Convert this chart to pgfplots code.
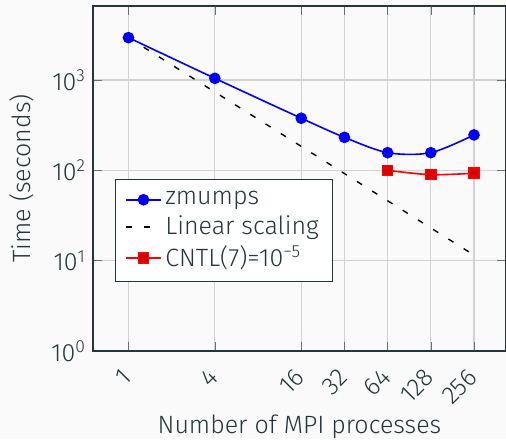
\documentclass[border=0pt]{standalone}
\usepackage{fontspec}
\setmainfont{Fira Sans}[UprightFont=* Light]
\usepackage{xcolor}
\usepackage{pgfplots}
\pgfplotsset{compat=1.18}
\definecolor{bgc}{HTML}{FAFAFA}
\definecolor{txt}{HTML}{23373B}
\pagecolor{bgc}
\newcommand{\fs}{\fontsize{12.5}{15}\selectfont}
\begin{document}
\begin{tikzpicture}
\begin{axis}[
  name=ax,
  scale only axis,
  width=206.5pt, height=172.5pt,
  xmode=log, ymode=log, log basis x=2, log basis y=10,
  xmin=0.566, xmax=427.6, ymin=1, ymax=6607,
  xtick={1,4,16,32,64,128,256},
  xticklabels={1,4,16,32,64,128,256},
  xminorticks=false,
  ytick={1,10,100,1000},
  yticklabels={10\textsuperscript{0},10\textsuperscript{1},10\textsuperscript{2},10\textsuperscript{3}},
  xticklabel style={xshift=-0.5pt, yshift=-11pt, rotate=45, anchor=east, inner sep=0pt, font=\fs},
  yticklabel style={font=\fs},
  grid=major,
  major grid style={gray!35, line width=0.6pt},
  axis line style={txt, line width=0.6pt},
  tick style={txt!70},
  minor tick style={txt!70},
  tick align=inside,
  every tick label/.append style={text=txt},
  xlabel={Number of MPI processes},
  ylabel={Time (seconds)},
  every axis x label/.style={at={(axis description cs:0.5,-0.22)}, anchor=center},
  every axis y label/.style={at={(axis description cs:-0.172,0.5)}, rotate=90, anchor=center},
  label style={text=txt, font=\fs},
  legend cell align=left,
  legend style={at={(0.0533,0.4986)}, anchor=north west, draw=txt, line width=0.6pt,
    fill=white, text=txt, font=\fs, inner xsep=5pt, inner ysep=4pt},
]
\addplot[blue, line width=0.8pt, smooth, mark=*, mark size=2.5pt] coordinates {
  (1,2950) (4,1045) (16,378) (32,232) (64,157) (128,157) (256,247)};
\addlegendentry{zmumps}
\addplot[black, line width=0.7pt, dash pattern=on 3pt off 6pt] coordinates {
  (1,2950) (256,11.52)};
\addlegendentry{Linear scaling}
\addplot[red, line width=0.8pt, smooth, mark=square*, mark size=2.5pt,
  mark options={fill=red!85!black}] coordinates {
  (64,100) (128,89.6) (256,93)};
\addlegendentry{CNTL(7)=10\textsuperscript{−5}}
\end{axis}
\pgfresetboundingbox
\path[use as bounding box] ([shift={(-46.5pt,-44pt)}]ax.south west) rectangle ([shift={(0pt,3pt)}]ax.north east);
\end{tikzpicture}
\end{document}
